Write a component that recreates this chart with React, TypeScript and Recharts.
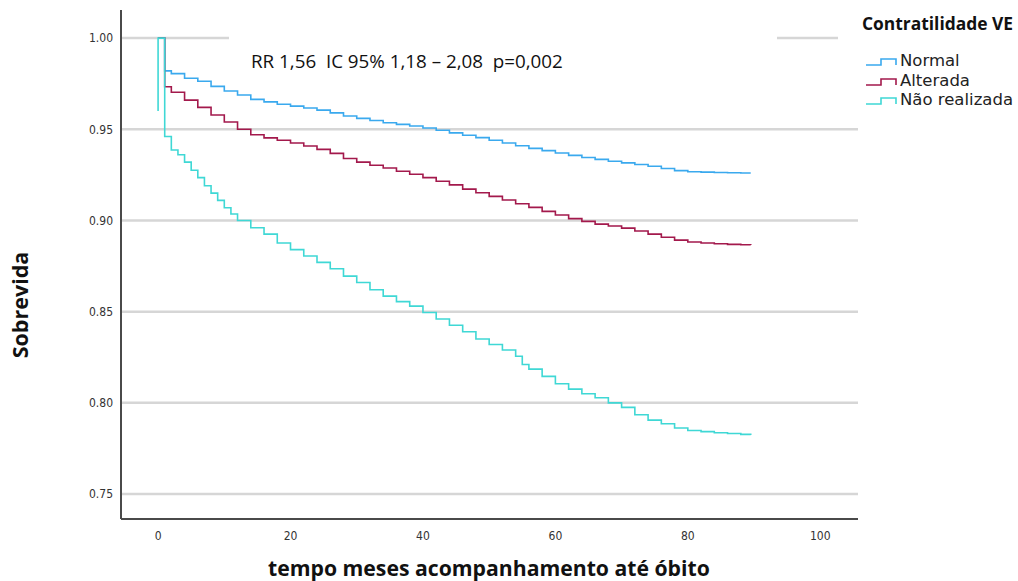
import React from 'react';
import { LineChart, Line, XAxis, YAxis, CartesianGrid } from 'recharts';

// Kaplan-Meier step points (months, survival)
const normalTime = [0, 1, 2, 4, 6, 8, 10, 12, 14, 16, 18, 20, 22, 24, 26, 28, 30, 32, 34, 36, 38, 40, 42, 44, 46, 48, 50, 52, 54, 56, 58, 60, 62, 64, 66, 68, 70, 72, 74, 76, 78, 80, 82, 84, 86, 88, 89.5];
const normalSurv = [1.0, 0.982, 0.9805, 0.978, 0.9763, 0.9735, 0.971, 0.9688, 0.9664, 0.965, 0.9637, 0.9627, 0.9617, 0.9605, 0.959, 0.9573, 0.956, 0.9548, 0.9536, 0.9527, 0.9518, 0.9507, 0.9495, 0.948, 0.9467, 0.9454, 0.944, 0.9425, 0.941, 0.9395, 0.9383, 0.937, 0.9357, 0.9345, 0.9335, 0.9325, 0.9316, 0.9307, 0.9297, 0.9285, 0.9273, 0.9267, 0.9265, 0.9263, 0.9262, 0.926, 0.926];

const alteradaTime = [0, 1, 2, 4, 6, 8, 10, 12, 14, 16, 18, 20, 22, 24, 26, 28, 30, 32, 34, 36, 38, 40, 42, 44, 46, 48, 50, 52, 54, 56, 58, 60, 62, 64, 66, 68, 70, 72, 74, 76, 78, 80, 82, 84, 86, 88, 89.5];
const alteradaSurv = [1.0, 0.9733, 0.9703, 0.966, 0.962, 0.9578, 0.954, 0.95, 0.947, 0.9453, 0.944, 0.9425, 0.9408, 0.939, 0.9368, 0.934, 0.932, 0.9303, 0.9288, 0.927, 0.9253, 0.9235, 0.9215, 0.9195, 0.9172, 0.9152, 0.9132, 0.9112, 0.9092, 0.9072, 0.905, 0.903, 0.901, 0.8995, 0.898, 0.897, 0.8958, 0.8942, 0.8925, 0.8908, 0.8892, 0.8882, 0.8876, 0.8872, 0.8869, 0.8867, 0.8866];

const naoTime = [0, 0, 1, 2, 3, 4, 5, 6, 7, 8, 9, 10, 11, 12, 14, 16, 18, 20, 22, 24, 26, 28, 30, 32, 34, 36, 38, 40, 42, 44, 46, 48, 50, 52, 54, 55, 56, 58, 60, 62, 64, 66, 68, 70, 72, 74, 76, 78, 80, 82, 84, 86, 88, 89.5];
const naoSurv = [0.96, 1.0, 0.946, 0.9386, 0.936, 0.932, 0.9275, 0.9235, 0.919, 0.915, 0.911, 0.907, 0.9035, 0.9, 0.896, 0.8925, 0.8876, 0.884, 0.8805, 0.877, 0.8735, 0.8695, 0.866, 0.862, 0.8585, 0.8555, 0.853, 0.8495, 0.846, 0.8425, 0.839, 0.835, 0.832, 0.829, 0.8255, 0.821, 0.8185, 0.8145, 0.8105, 0.8075, 0.805, 0.8028, 0.8, 0.7975, 0.7935, 0.7905, 0.7885, 0.7862, 0.7848, 0.7842, 0.7836, 0.7832, 0.7827, 0.7824];

const xTicks = [0, 20, 40, 60, 80, 100];
const yTicks = [0.75, 0.8, 0.85, 0.9, 0.95, 1.0];
const yDomain = [0.7363, 1.0154];

const seriesNames = ['Normal', 'Alterada', 'Não realizada'];
const seriesColors = ['#3aa9ee', '#a3194c', '#3fd8d5'];

const legendTitle = 'Contratilidade VE';
const annotation = 'RR 1,56  IC 95% 1,18 – 2,08  p=0,002';
const xTitle = 'tempo meses acompanhamento até óbito';
const yTitle = 'Sobrevida';

const toData = (t: number[], s: number[]) => t.map((v, i) => ({ t: v, s: s[i] }));
const series = [
  toData(normalTime, normalSurv),
  toData(alteradaTime, alteradaSurv),
  toData(naoTime, naoSurv),
];

const tickFont = { fontFamily: '"DejaVu Sans Condensed", "Liberation Sans Narrow", "DejaVu Sans", sans-serif', fontSize: 12, fill: '#333' };

const gridRows = (p: any) => {
  const top = p?.offset?.top ?? 10;
  const h = p?.offset?.height ?? 509;
  return yTicks.map((v) => top + (h * (yDomain[1] - v)) / (yDomain[1] - yDomain[0]));
};

export default function App() {
  return (
    <div style={{ position: 'absolute', left: 0, top: 0, width: 1018, height: 581, background: '#fff', overflow: 'hidden' }}>
      <LineChart width={1018} height={581} margin={{ top: 10, right: 160, bottom: 0, left: 0 }}>
        <CartesianGrid
          vertical={false}
          horizontal
          stroke="#d6d6d6"
          strokeWidth={2.5}
          horizontalCoordinatesGenerator={gridRows}
        />
        <XAxis
          dataKey="t"
          type="number"
          domain={[-5.6, 105.7]}
          ticks={xTicks}
          allowDuplicatedCategory={false}
          tickLine={false}
          axisLine={{ stroke: '#4a4a4a', strokeWidth: 2 }}
          tick={tickFont}
          tickMargin={6}
          height={62}
        />
        <YAxis
          type="number"
          domain={yDomain}
          ticks={yTicks}
          tickFormatter={(v: number) => v.toFixed(2)}
          tickLine={false}
          axisLine={{ stroke: '#4a4a4a', strokeWidth: 2 }}
          tick={tickFont}
          tickMargin={2}
          width={121}
          allowDataOverflow
        />
        {series.map((d, i) => (
          <Line
            key={seriesNames[i]}
            data={d}
            dataKey="s"
            name={seriesNames[i]}
            type="stepAfter"
            stroke={seriesColors[i]}
            strokeWidth={1.6}
            dot={false}
            activeDot={false}
            isAnimationActive={false}
          />
        ))}
      </LineChart>

      {/* annotation box (hides the 1.00 grid line behind it) */}
      <div style={{ position: 'absolute', left: 229, top: 34, width: 548, height: 12, background: '#fff' }} />
      <div style={{ position: 'absolute', left: 251, top: 48, fontFamily: '"Open Sans", "Liberation Sans", sans-serif', fontSize: 18.8, color: '#111', whiteSpace: 'pre', lineHeight: '26px' }}>
        {annotation}
      </div>

      {/* legend */}
      <div style={{ position: 'absolute', left: 838, top: 0, width: 180, height: 115, background: '#fff' }}>
        <div style={{ position: 'absolute', left: 24, top: 10, fontFamily: '"Open Sans", sans-serif', fontWeight: 700, fontSize: 17.4, color: '#111', whiteSpace: 'nowrap', lineHeight: '26px' }}>
          {legendTitle}
        </div>
        {seriesNames.map((n, i) => (
          <div key={n} style={{ position: 'absolute', left: 27, top: 51 + i * 19.5, height: 20, display: 'flex', alignItems: 'center', whiteSpace: 'nowrap' }}>
            <svg width={34} height={20} style={{ display: 'block' }}>
              <path d="M1,14 H16 V8 H31 V14" fill="none" stroke={seriesColors[i]} strokeWidth={1.6} />
            </svg>
            <span style={{ fontFamily: '"DejaVu Sans", sans-serif', fontSize: 16.5, color: '#222', marginLeft: 1, lineHeight: '20px' }}>{n}</span>
          </div>
        ))}
      </div>

      {/* axis titles */}
      <div style={{ position: 'absolute', left: 268, top: 557, fontFamily: '"Open Sans", sans-serif', fontWeight: 700, fontSize: 21.2, color: '#111', lineHeight: '22px', height: 23, whiteSpace: 'nowrap' }}>
        {xTitle}
      </div>
      <div style={{ position: 'absolute', left: 20, top: 305, transform: 'translate(-50%, -50%) rotate(-90deg)', fontFamily: '"Open Sans", sans-serif', fontWeight: 700, fontSize: 21.5, color: '#111', whiteSpace: 'nowrap', lineHeight: '26px' }}>
        {yTitle}
      </div>
    </div>
  );
}
